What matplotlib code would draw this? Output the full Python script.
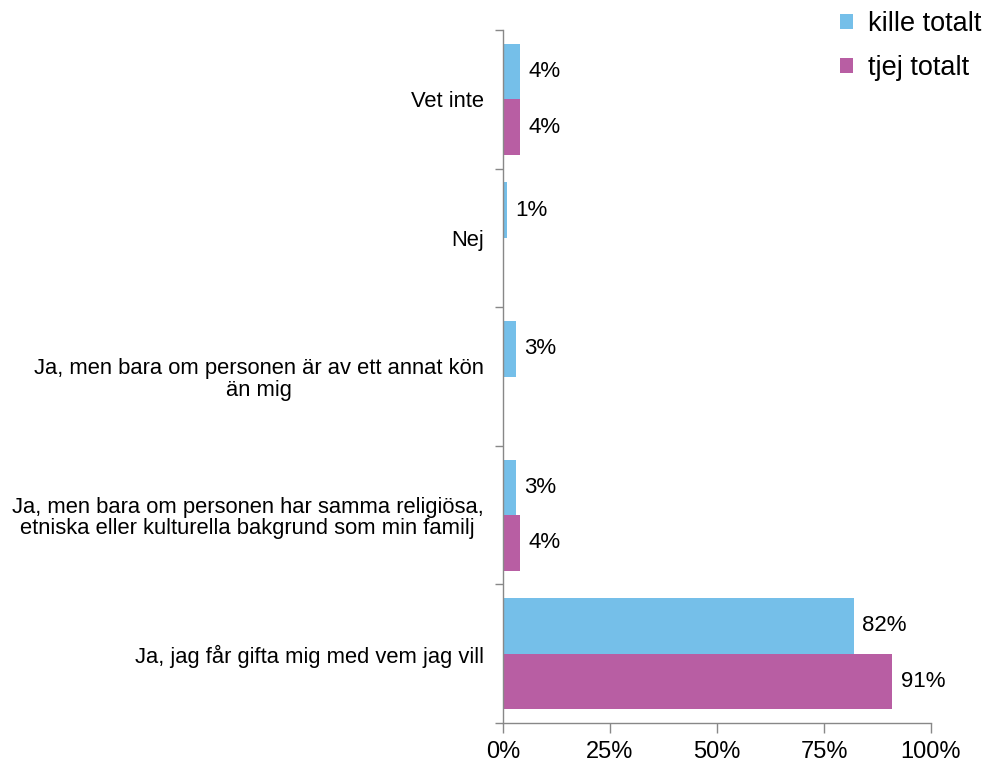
import numpy as np
import matplotlib.pyplot as plt

plt.rcParams['font.family'] = ['Liberation Sans', 'DejaVu Sans']

# categories listed top to bottom
categories = ['Vet inte',
              'Nej',
              'Ja, men bara om personen är av ett annat kön\nän mig',
              'Ja, men bara om personen har samma religiösa,\netniska eller kulturella bakgrund som min familj',
              'Ja, jag får gifta mig med vem jag vill']
kille = [4, 1, 3, 3, 82]
tjej = [4, 0, 0, 4, 91]
series_names = ['kille totalt', 'tjej totalt']
colors = ['#75BFE9', '#B85EA3']
xticks = [0, 25, 50, 75, 100]
xtick_labels = ['0%', '25%', '50%', '75%', '100%']

fig = plt.figure(figsize=(9.85, 7.62), dpi=100)
ax = fig.add_axes([503/985, 1-723/762, 428/985, 693/762])

n = len(categories)
pos = np.arange(n)[::-1]  # top category highest
h = 0.4

for vals, off, col, name in [(kille, h/2, colors[0], series_names[0]),
                             (tjej, -h/2, colors[1], series_names[1])]:
    ax.barh(pos + off, vals, height=h, color=col, label=name)
    for y, v in zip(pos + off, vals):
        if v > 0:
            ax.annotate(f'{v}%', (v, y), xytext=(6, 0), textcoords='offset points',
                        va='center', ha='left', fontsize=16)

ax.set_xlim(0, 100)
ax.set_ylim(-0.5, n - 0.5)
ax.set_xticks(xticks)
ax.set_xticklabels(xtick_labels, fontsize=17)

# category labels at centers, ticks at boundaries
ax.set_yticks(np.arange(-0.5, n, 1))
ax.set_yticklabels([])
ax.set_yticks(pos, minor=True)
ax.set_yticklabels(categories, minor=True, fontsize=15.8, ha='right',
                   multialignment='center', linespacing=1.05)
ax.tick_params(axis='y', which='minor', length=0, pad=14)
ax.tick_params(axis='y', which='major', length=6, color='#888888', width=1)
ax.tick_params(axis='x', length=7, color='#888888', width=1, pad=6)

for s in ['top', 'right']:
    ax.spines[s].set_visible(False)
for s in ['left', 'bottom']:
    ax.spines[s].set_color('#888888')
    ax.spines[s].set_linewidth(1)

ax.legend(loc='upper left', bbox_to_anchor=(840/985, 1 - 11/762), bbox_transform=fig.transFigure,
          frameon=False, fontsize=19.5, handlelength=0.48, handleheight=0.48,
          handletextpad=0.55, labelspacing=0.67, borderpad=0, borderaxespad=0)

fig.savefig('out.png', dpi=100)
